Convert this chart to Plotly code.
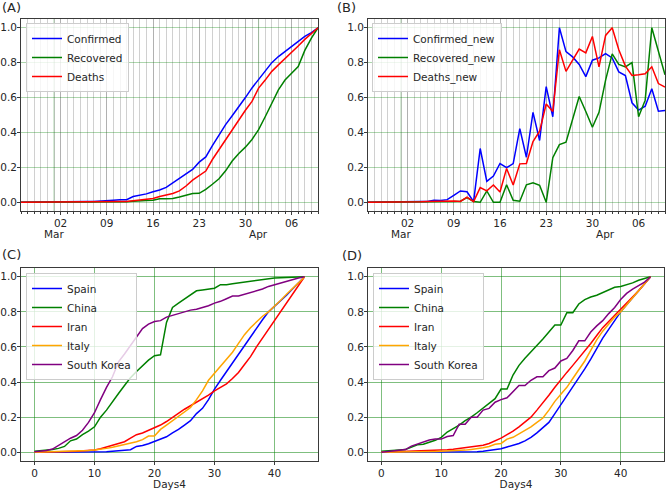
import pandas as pd
import plotly.graph_objects as go

# ---------------- data ----------------
dates = pd.date_range("2020-02-25", periods=46, freq="D")
days4 = list(range(46))

week_ticks = ["2020-03-02", "2020-03-09", "2020-03-16", "2020-03-23", "2020-03-30", "2020-04-06"]
week_labels = ["02", "09", "16", "23", "30", "06"]
month_ticks = ["2020-03-01", "2020-04-01"]
month_labels = ["Mar", "Apr"]

# Panel A (cumulative, normalised)
confirmed = [0.0, 0.0, 0.0, 0.001, 0.001, 0.001, 0.001, 0.002, 0.002, 0.003,
             0.004, 0.005, 0.006, 0.008, 0.012, 0.015, 0.015, 0.033, 0.04, 0.048,
             0.06, 0.07, 0.085, 0.11, 0.135, 0.16, 0.188, 0.23, 0.26, 0.325,
             0.388, 0.445, 0.496, 0.546, 0.6, 0.655, 0.705, 0.755, 0.8, 0.835,
             0.863, 0.89, 0.922, 0.95, 0.972, 1.0]
recovered = [0.0, 0.0, 0.0, 0.0, 0.0, 0.0, 0.0, 0.0, 0.0, 0.0,
             0.0, 0.001, 0.001, 0.001, 0.002, 0.002, 0.003, 0.006, 0.01, 0.01,
             0.012, 0.02, 0.02, 0.022, 0.03, 0.042, 0.05, 0.051, 0.074, 0.103,
             0.135, 0.18, 0.236, 0.28, 0.316, 0.36, 0.416, 0.49, 0.568, 0.644,
             0.7, 0.74, 0.777, 0.87, 0.94, 1.0]
deaths = [0.0, 0.0, 0.0, 0.0, 0.0, 0.0, 0.0, 0.0, 0.001, 0.001,
          0.001, 0.002, 0.002, 0.003, 0.004, 0.004, 0.005, 0.01, 0.015, 0.02,
          0.022, 0.033, 0.04, 0.05, 0.065, 0.093, 0.127, 0.154, 0.179, 0.245,
          0.302, 0.363, 0.416, 0.473, 0.527, 0.578, 0.654, 0.7, 0.75, 0.787,
          0.825, 0.857, 0.895, 0.933, 0.968, 1.0]

# Panel B (daily new, normalised)
confirmed_new = [0.0, 0.0, 0.0, 0.002, 0.002, 0.003, 0.003, 0.004, 0.004, 0.005,
                 0.012, 0.01, 0.015, 0.04, 0.065, 0.06, 0.004, 0.308, 0.12, 0.15,
                 0.222, 0.198, 0.222, 0.422, 0.258, 0.515, 0.354, 0.663, 0.49, 1.0,
                 0.863, 0.833, 0.79, 0.72, 0.814, 0.827, 0.852, 0.827, 0.747, 0.726,
                 0.57, 0.528, 0.55, 0.65, 0.522, 0.526]
recovered_new = [0.0, 0.0, 0.0, 0.0, 0.0, 0.0, 0.0, 0.0, 0.0, 0.0,
                 0.0, 0.002, 0.002, 0.004, 0.006, 0.027, 0.004, 0.0, 0.065, 0.0,
                 0.0, 0.1, 0.011, 0.006, 0.1, 0.112, 0.097, 0.0, 0.255, 0.33,
                 0.344, 0.473, 0.606, 0.52, 0.43, 0.515, 0.7, 0.85, 0.79, 0.776,
                 0.8, 0.49, 0.585, 1.0, 0.86, 0.73]
deaths_new = [0.0, 0.0, 0.0, 0.0, 0.0, 0.0, 0.001, 0.002, 0.003, 0.005,
              0.006, 0.008, 0.011, 0.008, 0.005, 0.03, 0.004, 0.084, 0.065, 0.099,
              0.059, 0.194, 0.099, 0.22, 0.222, 0.348, 0.407, 0.563, 0.52, 0.874,
              0.75, 0.81, 0.878, 0.856, 0.95, 0.776, 0.956, 1.0, 0.874, 0.78,
              0.726, 0.73, 0.736, 0.776, 0.68, 0.66]

# Panel C
c_spain = [0.0, 0.0, 0.0, 0.0, 0.0, 0.0, 0.0, 0.0, 0.0, 0.0,
           0.001, 0.002, 0.003, 0.006, 0.01, 0.013, 0.014, 0.033, 0.038, 0.048,
           0.06, 0.072, 0.088, 0.11, 0.13, 0.155, 0.18, 0.22, 0.25, 0.3,
           0.36, 0.41, 0.46, 0.51, 0.56, 0.61, 0.66, 0.71, 0.755, 0.8,
           0.83, 0.86, 0.895, 0.93, 0.965, 1.0]
c_china = [0.005, 0.008, 0.01, 0.015, 0.022, 0.033, 0.065, 0.075, 0.1, 0.12,
           0.145, 0.2, 0.24, 0.29, 0.335, 0.38, 0.425, 0.46, 0.495, 0.525,
           0.55, 0.555, 0.74, 0.825, 0.85, 0.875, 0.9, 0.92, 0.925, 0.93,
           0.935, 0.955, 0.955, 0.96, 0.965, 0.97, 0.975, 0.98, 0.985, 0.99,
           0.993, 0.995, 0.997, 0.998, 0.999, 1.0]
c_iran = [0.0, 0.0, 0.001, 0.001, 0.002, 0.003, 0.004, 0.005, 0.007, 0.01,
          0.013, 0.02, 0.03, 0.04, 0.05, 0.06, 0.08, 0.1, 0.11, 0.125,
          0.14, 0.155, 0.175, 0.2, 0.22, 0.245, 0.265, 0.285, 0.305, 0.325,
          0.35, 0.37, 0.39, 0.42, 0.455, 0.5, 0.545, 0.6, 0.65, 0.7,
          0.75, 0.8, 0.85, 0.9, 0.95, 1.0]
c_italy = [0.0, 0.001, 0.001, 0.001, 0.002, 0.002, 0.003, 0.005, 0.008, 0.01,
           0.013, 0.016, 0.022, 0.028, 0.035, 0.042, 0.05, 0.06, 0.072, 0.092,
           0.092, 0.13, 0.155, 0.18, 0.2, 0.225, 0.255, 0.3, 0.35, 0.41,
           0.45, 0.49, 0.53, 0.57, 0.62, 0.67, 0.71, 0.745, 0.775, 0.8,
           0.83, 0.865, 0.9, 0.93, 0.965, 1.0]
c_korea = [0.003, 0.005, 0.01, 0.018, 0.04, 0.06, 0.08, 0.095, 0.125, 0.17,
           0.225, 0.3, 0.37, 0.43, 0.515, 0.56, 0.61, 0.66, 0.705, 0.73,
           0.745, 0.75, 0.77, 0.78, 0.79, 0.8, 0.81, 0.815, 0.825, 0.835,
           0.85, 0.86, 0.875, 0.89, 0.89, 0.9, 0.91, 0.92, 0.93, 0.945,
           0.955, 0.965, 0.975, 0.985, 0.993, 1.0]

# Panel D
d_spain = [0.0, 0.0, 0.0, 0.0, 0.0, 0.0, 0.0, 0.0, 0.0, 0.0,
           0.0, 0.0, 0.001, 0.001, 0.001, 0.002, 0.003, 0.005, 0.01, 0.015,
           0.02, 0.03, 0.038, 0.05, 0.065, 0.085, 0.11, 0.14, 0.17, 0.22,
           0.27, 0.32, 0.37, 0.42, 0.475, 0.53, 0.59, 0.65, 0.7, 0.75,
           0.8, 0.84, 0.88, 0.92, 0.96, 1.0]
d_china = [0.005, 0.006, 0.008, 0.012, 0.015, 0.03, 0.042, 0.045, 0.055, 0.068,
           0.085, 0.115, 0.135, 0.155, 0.18, 0.2, 0.225, 0.25, 0.275, 0.305,
           0.36, 0.36, 0.44, 0.495, 0.535, 0.57, 0.605, 0.645, 0.685, 0.725,
           0.725, 0.795, 0.795, 0.845, 0.87, 0.885, 0.895, 0.91, 0.925, 0.94,
           0.945, 0.955, 0.965, 0.98, 0.99, 1.0]
d_iran = [0.0, 0.001, 0.002, 0.003, 0.004, 0.005, 0.006, 0.007, 0.008, 0.01,
          0.012, 0.014, 0.017, 0.021, 0.025, 0.029, 0.033, 0.04, 0.05, 0.065,
          0.08, 0.1, 0.12, 0.145, 0.17, 0.2, 0.24, 0.28, 0.325, 0.37,
          0.415, 0.455, 0.495, 0.535, 0.575, 0.62, 0.665, 0.71, 0.745, 0.78,
          0.81, 0.845, 0.88, 0.92, 0.96, 1.0]
d_italy = [0.0, 0.0, 0.0, 0.001, 0.001, 0.001, 0.002, 0.002, 0.003, 0.004,
           0.005, 0.006, 0.008, 0.01, 0.012, 0.016, 0.02, 0.025, 0.033, 0.045,
           0.05, 0.075, 0.085, 0.105, 0.125, 0.145, 0.17, 0.195, 0.24, 0.29,
           0.33, 0.37, 0.42, 0.47, 0.52, 0.58, 0.64, 0.69, 0.73, 0.77,
           0.8, 0.84, 0.88, 0.92, 0.96, 1.0]
d_korea = [0.0, 0.003, 0.008, 0.012, 0.015, 0.035, 0.048, 0.058, 0.07, 0.075,
           0.075, 0.09, 0.095, 0.16, 0.16, 0.2, 0.2, 0.24, 0.25, 0.285,
           0.3, 0.31, 0.345, 0.38, 0.38, 0.41, 0.43, 0.43, 0.465, 0.48,
           0.52, 0.535, 0.58, 0.635, 0.635, 0.685, 0.72, 0.75, 0.79, 0.825,
           0.87, 0.905, 0.93, 0.95, 0.97, 1.0]

y_ticks = [0.0, 0.2, 0.4, 0.6, 0.8, 1.0]
days_ticks = [0, 10, 20, 30, 40]

# ---------------- styling ----------------
W, H = 667, 490
FONT = "DejaVu Sans"
TXT = "#262626"
SPINE = "#3a3a3a"
GREEN_LIGHT = "rgba(0,128,0,0.32)"
GREEN_MED = "rgba(0,128,0,0.5)"
GRAY_GRID = "rgba(120,120,120,0.35)"


def xd(a, b):
    return [a / W, b / W]


def yd(top, bottom):
    return [1 - bottom / H, 1 - top / H]


fig = go.Figure()


def add(x, y, name, color, xa, ya, leg):
    fig.add_trace(go.Scatter(x=x, y=y, name=name, mode="lines",
                             line=dict(color=color, width=1.5),
                             xaxis=xa, yaxis=ya, legend=leg))


add(dates, confirmed, "Confirmed", "blue", "x", "y", "legend")
add(dates, recovered, "Recovered", "green", "x", "y", "legend")
add(dates, deaths, "Deaths", "red", "x", "y", "legend")

add(dates, confirmed_new, "Confirmed_new", "blue", "x2", "y2", "legend2")
add(dates, recovered_new, "Recovered_new", "green", "x2", "y2", "legend2")
add(dates, deaths_new, "Deaths_new", "red", "x2", "y2", "legend2")

for ys, nm, col in [(c_spain, "Spain", "blue"), (c_china, "China", "green"),
                    (c_iran, "Iran", "red"), (c_italy, "Italy", "orange"),
                    (c_korea, "South Korea", "purple")]:
    add(days4, ys, nm, col, "x3", "y3", "legend3")

for ys, nm, col in [(d_spain, "Spain", "blue"), (d_china, "China", "green"),
                    (d_iran, "Iran", "red"), (d_italy, "Italy", "orange"),
                    (d_korea, "South Korea", "purple")]:
    add(days4, ys, nm, col, "x4", "y4", "legend4")

tickfont = dict(family=FONT, size=10.5, color=TXT)

date_axis = dict(type="date", range=["2020-02-25", "2020-04-10"], automargin=False,
                 tickmode="array", tickvals=week_ticks, ticktext=week_labels,
                 ticks="outside", ticklen=3, tickcolor=SPINE, tickfont=tickfont,
                 ticklabelstandoff=-1,
                 showgrid=True, gridcolor=GRAY_GRID, gridwidth=1,
                 minor=dict(dtick=86400000, tick0="2020-02-25", showgrid=True,
                            gridcolor=GRAY_GRID, gridwidth=1, ticks="outside",
                            ticklen=2, tickcolor=SPINE),
                 showline=True, mirror=True, linecolor=SPINE, linewidth=1,
                 zeroline=False)

days_axis = dict(range=[-2.25, 47.25], tickmode="array", tickvals=days_ticks,
                 automargin=False, ticklabelstandoff=-1,
                 ticks="outside", ticklen=3, tickcolor=SPINE, tickfont=tickfont,
                 showgrid=True, gridcolor=GREEN_MED, gridwidth=1,
                 showline=True, mirror=True, linecolor=SPINE, linewidth=1,
                 zeroline=False,
                 title=dict(text="Days4", font=dict(family=FONT, size=10.5, color=TXT),
                            standoff=2))


def y_axis(grid):
    return dict(range=[-0.05, 1.05], tickmode="array", tickvals=y_ticks,
                automargin=False, ticklabelstandoff=-2,
                tickformat=".1f", ticks="outside", ticklen=3, tickcolor=SPINE,
                tickfont=tickfont, showgrid=True, gridcolor=grid, gridwidth=1,
                showline=True, mirror=True, linecolor=SPINE, linewidth=1,
                zeroline=False)


top_dom = yd(19, 211)
bot_dom = yd(268, 461)

fig.update_layout(
    width=W, height=H, margin=dict(l=0, r=0, t=0, b=0, autoexpand=False),
    paper_bgcolor="white", plot_bgcolor="white",
    font=dict(family=FONT, size=10.5, color=TXT),
    xaxis=dict(domain=xd(21, 318), anchor="y", **date_axis),
    yaxis=dict(domain=top_dom, anchor="x", **y_axis(GREEN_LIGHT)),
    xaxis2=dict(domain=xd(368, 665), anchor="y2", **date_axis),
    yaxis2=dict(domain=top_dom, anchor="x2", **y_axis(GREEN_LIGHT)),
    xaxis3=dict(domain=xd(21, 318), anchor="y3", **days_axis),
    yaxis3=dict(domain=bot_dom, anchor="x3", **y_axis(GREEN_MED)),
    xaxis4=dict(domain=xd(368, 664), anchor="y4", **days_axis),
    yaxis4=dict(domain=bot_dom, anchor="x4", **y_axis(GREEN_MED)),
    showlegend=True,
)

legend_style = dict(bgcolor="rgba(255,255,255,0.8)", bordercolor="#cccccc",
                    borderwidth=1, xanchor="left", yanchor="top",
                    font=dict(family=FONT, size=10.5, color=TXT),
                    itemwidth=30, tracegroupgap=0)
fig.update_layout(
    legend=dict(x=26 / W, y=1 - 23 / H, **legend_style),
    legend2=dict(x=372 / W, y=1 - 23 / H, **legend_style),
    legend3=dict(x=26 / W, y=1 - 273 / H, **legend_style),
    legend4=dict(x=373 / W, y=1 - 273 / H, **legend_style),
)

# month boundary lines and month labels on the date axes
for xa, ya in [("x", "y"), ("x2", "y2")]:
    for mt, ml in zip(month_ticks, month_labels):
        fig.add_shape(type="line", xref=xa, yref=f"{ya} domain", x0=mt, x1=mt,
                      y0=0, y1=1, line=dict(color=GREEN_LIGHT, width=1), layer="below")
        fig.add_annotation(x=mt, xref=xa, y=0, yref=f"{ya} domain", text=ml,
                           showarrow=False, yanchor="top", yshift=-15,
                           font=dict(family=FONT, size=10.5, color=TXT))

# panel letters
for lbl, px, py in [("(A)", 0, -2), ("(B)", 335, -2), ("(C)", 0, 245), ("(D)", 340, 246)]:
    fig.add_annotation(x=px / W, y=1 - py / H, xref="paper", yref="paper",
                       text=lbl, showarrow=False, xanchor="left", yanchor="top",
                       font=dict(family=FONT, size=13, color=TXT))

fig.write_html("out.html", config={"displayModeBar": False},
               post_script="document.body.style.margin='0';document.body.style.padding='0';")
